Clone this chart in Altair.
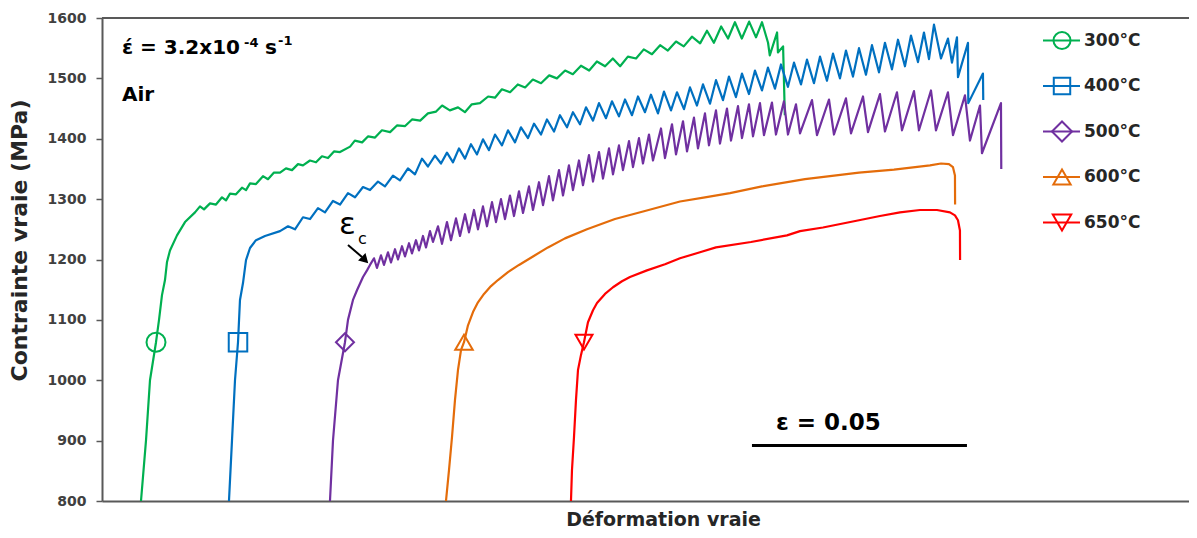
import altair as alt
import pandas as pd

# ---------------- data ----------------
temps = ["300°C", "400°C", "500°C", "600°C", "650°C"]

strain_300 = [0.00907, 0.01023, 0.01116, 0.01256, 0.01326, 0.01395, 0.01465, 0.01512, 0.01581, 0.01744,
              0.01930, 0.02163, 0.02279, 0.02372, 0.02512, 0.02651, 0.02791, 0.02884, 0.02977, 0.03116,
              0.03256, 0.03349, 0.03442, 0.03581, 0.03744, 0.03860, 0.04000, 0.04140, 0.04279, 0.04419,
              0.04558, 0.04674, 0.04837, 0.04977, 0.05116, 0.05256, 0.05395, 0.05535,
              0.0577, 0.0588, 0.0605, 0.0619, 0.0635, 0.0651, 0.0670, 0.0686, 0.0705, 0.0721,
              0.0740, 0.0758, 0.0777, 0.0791, 0.0809, 0.0828, 0.0844, 0.0860, 0.0879, 0.0898,
              0.0914, 0.0930, 0.0949, 0.0967, 0.0984, 0.1002, 0.1021, 0.1040, 0.1058, 0.1077,
              0.1095, 0.1114, 0.1133, 0.1151, 0.1170, 0.1188, 0.1205, 0.1223, 0.1242, 0.1260,
              0.1279, 0.1298, 0.1316, 0.1335, 0.1353, 0.1372, 0.1391, 0.1407, 0.1423, 0.1440,
              0.1456, 0.1472, 0.1488, 0.1505, 0.1521, 0.1535, 0.1549, 0.1553, 0.1570, 0.1572,
              0.1584, 0.1588]
stress_300 = [800, 900, 1000, 1063, 1100, 1141, 1166, 1196, 1215, 1240,
              1262, 1278, 1288, 1283, 1293, 1291, 1303, 1298, 1309, 1308,
              1319, 1315, 1326, 1325, 1338, 1333, 1344, 1344, 1351, 1348,
              1358, 1356, 1364, 1361, 1371, 1368, 1379, 1378,
              1387, 1397, 1394, 1404, 1402, 1414, 1411, 1422, 1421, 1432,
              1430, 1442, 1445, 1455, 1447, 1452, 1444, 1457, 1459, 1470,
              1468, 1482, 1477, 1490, 1485, 1498, 1492, 1505, 1500, 1513,
              1507, 1521, 1513, 1528, 1520, 1533, 1520, 1536, 1533, 1548,
              1540, 1555, 1546, 1561, 1553, 1569, 1558, 1579, 1559, 1586,
              1566, 1593, 1566, 1594, 1568, 1593, 1559, 1538, 1576, 1543,
              1553, 1439]

strain_400 = [0.02953, 0.03023, 0.03093, 0.03163, 0.03209, 0.03279, 0.03349, 0.03442, 0.03581, 0.03791, 0.04140,
              0.04326, 0.04488, 0.04674, 0.04837, 0.05023, 0.05186, 0.05372, 0.05535, 0.05721, 0.05884,
              0.06070, 0.06233, 0.06419, 0.06581, 0.06767, 0.06930, 0.07116, 0.07279,
              0.07442, 0.07581, 0.07744, 0.07884, 0.08023, 0.08163, 0.08302, 0.08442, 0.08581, 0.08721,
              0.08860, 0.09000, 0.09140, 0.09302, 0.09442, 0.09605, 0.09744, 0.09907, 0.10047, 0.10209,
              0.10349, 0.10512, 0.10651, 0.10814, 0.10953, 0.11116, 0.11256, 0.11419, 0.11558, 0.11721,
              0.11860, 0.12023, 0.12163, 0.12326, 0.12465, 0.12628, 0.12767,
              0.12930, 0.13070, 0.13233, 0.13372, 0.13535, 0.13674, 0.13837, 0.13977, 0.14140, 0.14279,
              0.14442, 0.14581, 0.14744, 0.14884, 0.15047, 0.15186, 0.15349, 0.15488, 0.15651, 0.15791,
              0.15953, 0.16093, 0.16256, 0.16395, 0.16558, 0.16698, 0.16860, 0.17000, 0.17163, 0.17302,
              0.17465, 0.17605, 0.17767, 0.17907, 0.18070, 0.18209, 0.18372, 0.18512, 0.18674, 0.18814,
              0.18977, 0.19116, 0.19233, 0.19349,
              0.19512, 0.19674, 0.19767, 0.19884, 0.19907, 0.20140, 0.20147, 0.20488, 0.20495]
stress_400 = [800, 900, 1000, 1063, 1133, 1161, 1199, 1219, 1232, 1239, 1247,
              1255, 1250, 1270, 1267, 1285, 1278, 1297, 1291, 1310, 1303,
              1320, 1315, 1329, 1321, 1339, 1331, 1351, 1341,
              1367, 1354, 1372, 1359, 1377, 1361, 1384, 1367, 1391, 1374,
              1399, 1381, 1407, 1389, 1414, 1394, 1419, 1401, 1425, 1407,
              1432, 1412, 1439, 1419, 1444, 1424, 1452, 1430, 1459, 1434,
              1462, 1437, 1465, 1439, 1470, 1444, 1473,
              1442, 1478, 1447, 1477, 1449, 1485, 1455, 1490, 1458, 1497,
              1464, 1503, 1469, 1508, 1474, 1513, 1480, 1518, 1483, 1523,
              1486, 1526, 1490, 1531, 1492, 1536, 1496, 1541, 1500, 1546,
              1503, 1550, 1506, 1555, 1510, 1559, 1515, 1564, 1520, 1571,
              1527, 1576, 1532, 1589,
              1533, 1566, 1526, 1568, 1502, 1559, 1459, 1508, 1464]

strain_500 = [0.05302, 0.05372, 0.05488, 0.05651, 0.05721, 0.05837, 0.05930, 0.06070, 0.06163, 0.06233,
              0.06326, 0.06395, 0.06488, 0.06558, 0.06651, 0.06721, 0.06814, 0.06884, 0.06977, 0.07047,
              0.07140, 0.07209, 0.07302, 0.07372, 0.07465, 0.07535, 0.07628, 0.07698,
              0.07814, 0.07907, 0.08023, 0.08116, 0.08233, 0.08326, 0.08442, 0.08535, 0.08651, 0.08744,
              0.08860, 0.08953, 0.09070, 0.09163, 0.09279, 0.09372, 0.09488, 0.09581, 0.09698, 0.09791,
              0.09930, 0.10023, 0.10163, 0.10256, 0.10395, 0.10488, 0.10628, 0.10721, 0.10860, 0.10953,
              0.11093, 0.11186, 0.11326, 0.11419, 0.11558, 0.11651, 0.11791, 0.11884, 0.12023, 0.12116,
              0.12256, 0.12349, 0.12488, 0.12581, 0.12721, 0.12814,
              0.13000, 0.13093, 0.13256, 0.13349, 0.13512, 0.13605, 0.13767, 0.13860, 0.14023, 0.14116,
              0.14279, 0.14372, 0.14535, 0.14628, 0.14791, 0.14884, 0.15047, 0.15140, 0.15302, 0.15395,
              0.15581, 0.15674, 0.15860, 0.15953, 0.16140, 0.16233,
              0.16512, 0.16628, 0.16907, 0.17023, 0.17302, 0.17419, 0.17698, 0.17814, 0.18093, 0.18209,
              0.18488, 0.18605, 0.18884, 0.19000, 0.19279, 0.19395, 0.19674, 0.19791, 0.20070, 0.20186,
              0.20419, 0.20465, 0.20907, 0.20914]
stress_500 = [800, 900, 1000, 1063, 1100, 1133, 1149, 1171, 1182, 1191,
              1202, 1186, 1207, 1191, 1212, 1195, 1217, 1200, 1222, 1205,
              1227, 1210, 1232, 1215, 1239, 1220, 1247, 1229,
              1255, 1226, 1262, 1232, 1268, 1239, 1275, 1245, 1282, 1250,
              1288, 1255, 1295, 1262, 1300, 1267, 1306, 1272, 1313, 1277,
              1321, 1282, 1328, 1290, 1338, 1298, 1348, 1306, 1356, 1315,
              1364, 1323, 1373, 1329, 1378, 1334, 1384, 1341, 1389, 1348,
              1396, 1353, 1401, 1359, 1407, 1364,
              1417, 1368, 1424, 1374, 1429, 1379, 1435, 1384, 1442, 1389,
              1447, 1392, 1450, 1397, 1454, 1401, 1457, 1404, 1459, 1406,
              1460, 1407, 1462, 1407, 1457, 1409,
              1464, 1406, 1465, 1407, 1467, 1409, 1470, 1411, 1474, 1412,
              1477, 1414, 1479, 1414, 1480, 1414, 1477, 1406, 1472, 1397,
              1455, 1376, 1459, 1350]

strain_600 = [0.08000, 0.08070, 0.08140, 0.08209, 0.08279, 0.08349, 0.08419, 0.08512, 0.08628, 0.08744,
              0.08884, 0.09047, 0.09209, 0.09442, 0.09698, 0.10023, 0.10372, 0.10767, 0.11279, 0.11930,
              0.12605, 0.13442, 0.14023, 0.14605, 0.15349, 0.16349, 0.16930, 0.17605, 0.18419, 0.19256,
              0.19512, 0.19698, 0.19791, 0.19837, 0.19840]
stress_600 = [800, 851, 906, 967, 1017, 1050, 1063, 1091, 1113, 1129,
              1143, 1156, 1166, 1179, 1191, 1205, 1220, 1235, 1250, 1267,
              1280, 1296, 1303, 1310, 1321, 1333, 1338, 1344, 1349, 1356,
              1359, 1358, 1353, 1339, 1291]

strain_650 = [0.10907, 0.10930, 0.10977, 0.11023, 0.11070, 0.11140, 0.11209, 0.11302, 0.11419, 0.11512,
              0.11698, 0.11884, 0.12093, 0.12279, 0.12674, 0.13093, 0.13442, 0.13907, 0.14279, 0.15093,
              0.15930, 0.16233, 0.16767, 0.17605, 0.18093, 0.18558, 0.19023, 0.19419, 0.19721, 0.19837,
              0.19907, 0.19953, 0.19956]
stress_650 = [800, 851, 906, 967, 1017, 1042, 1063, 1096, 1116, 1128,
              1143, 1154, 1164, 1171, 1182, 1192, 1202, 1212, 1220, 1229,
              1240, 1247, 1253, 1265, 1272, 1278, 1282, 1282, 1278, 1273,
              1265, 1248, 1199]

marker_strain = [0.01256, 0.03163, 0.05651, 0.08419, 0.11209]
marker_stress = [1063, 1063, 1063, 1063, 1063]

y_ticks = [800, 900, 1000, 1100, 1200, 1300, 1400, 1500, 1600]
x_domain = [0, 0.2528]
y_domain = [800, 1600]

scale_bar_start = [0.15116]
scale_bar_end = [0.20116]
scale_bar_stress = [892]

# ---------------- styles ----------------
colors = ["#00B050", "#0070C0", "#7030A0", "#E46C0A", "#FF0000"]
shapes = ["circle", "square", "diamond", "triangle-up", "triangle-down"]
marker_sizes = [361, 289, 441, 529, 729]
legend_sizes = [289, 270, 400, 300, 340]
FONT = "DejaVu Sans"
AXIS_GREY = "#595959"
TEXT = "#262626"

# ---------------- tables ----------------
rows = []
for t, xs, ys in zip(temps,
                     [strain_300, strain_400, strain_500, strain_600, strain_650],
                     [stress_300, stress_400, stress_500, stress_600, stress_650]):
    for i, (xv, yv) in enumerate(zip(xs, ys)):
        rows.append({"temp": t, "strain": xv, "stress": yv, "i": i})
curves = pd.DataFrame(rows)
markers = pd.DataFrame({"temp": temps, "strain": marker_strain, "stress": marker_stress})
bar = pd.DataFrame({"x": scale_bar_start, "x2": scale_bar_end, "y": scale_bar_stress})
one = pd.DataFrame({"a": [0]})

x_scale = alt.Scale(domain=x_domain, nice=False, zero=False)
y_scale = alt.Scale(domain=y_domain, nice=False, zero=False)
color = alt.Color("temp:N", scale=alt.Scale(domain=temps, range=colors), legend=None)

x_axis = alt.Axis(title="Déformation vraie", labels=False, ticks=False, grid=False,
                  domainColor=AXIS_GREY, domainWidth=2,
                  titleFont=FONT, titleFontSize=19, titleFontWeight="bold", titleColor=TEXT,
                  titleX=561, titleY=24, titleAlign="center", titleBaseline="alphabetic")
y_axis = alt.Axis(title="Contrainte vraie (MPa)", values=y_ticks, grid=False,
                  domainColor=AXIS_GREY, domainWidth=2, tickColor=AXIS_GREY, tickWidth=1.5,
                  tickSize=6, labelPadding=10, labelFont=FONT, labelFontSize=14,
                  labelFontWeight="bold", labelColor="#404040", format="d",
                  titleFont=FONT, titleFontSize=22, titleFontWeight="bold", titleColor=TEXT,
                  titleAngle=-90, titleX=-83, titleY=222, titleAlign="center",
                  titleBaseline="middle")

base = alt.Chart(curves)
lines = base.mark_line(strokeWidth=2.2, strokeJoin="round").encode(
    x=alt.X("strain:Q", scale=x_scale, axis=x_axis),
    y=alt.Y("stress:Q", scale=y_scale, axis=y_axis),
    color=color,
    order="i:Q",
)

top_rule = alt.Chart(one).mark_rule(color=AXIS_GREY, strokeWidth=2).encode(
    y=alt.datum(1600, scale=y_scale))

pts = alt.Chart(markers).mark_point(filled=False, strokeWidth=2, opacity=1).encode(
    x=alt.X("strain:Q", scale=x_scale),
    y=alt.Y("stress:Q", scale=y_scale),
    color=color,
    shape=alt.Shape("temp:N", scale=alt.Scale(domain=temps, range=shapes), legend=None),
    size=alt.Size("temp:O", scale=alt.Scale(domain=temps, range=marker_sizes), legend=None),
)

scale_bar = alt.Chart(bar).mark_rule(color="black", strokeWidth=3).encode(
    x=alt.X("x:Q", scale=x_scale), x2="x2:Q", y=alt.Y("y:Q", scale=y_scale))

def txt(s, x, y, size, weight="bold", align="left", baseline="alphabetic", font=FONT, color="black"):
    return alt.Chart(one).mark_text(text=s, font=font, fontSize=size, fontWeight=weight,
                                    align=align, baseline=baseline, color=color).encode(
        x=alt.value(x), y=alt.value(y))

annot = [
    txt("έ = 3.2x10", 20, 36, 20),
    txt("-4", 142, 29, 13),
    txt("s", 163, 36, 20),
    txt("-1", 176, 27, 13),
    txt("Air", 20, 83, 20),
    txt("ε", 237, 216, 31, weight="normal"),
    txt("c", 256, 226, 16, weight="normal"),
    txt("ε = 0.05", 674, 412, 23),
]

arrow_line = alt.Chart(one).mark_rule(color="black", strokeWidth=2).encode(
    x=alt.value(246), y=alt.value(227), x2=alt.value(260), y2=alt.value(239))
arrow_head = alt.Chart(one).mark_point(shape="triangle-up", filled=True, color="black",
                                       size=110, angle=135, opacity=1).encode(
    x=alt.value(263), y=alt.value(242))

legend_layers = []
for k, t in enumerate(temps):
    yy = 22.5 + 45.5 * k
    legend_layers.append(alt.Chart(one).mark_rule(color=colors[k], strokeWidth=2).encode(
        x=alt.value(941), x2=alt.value(978), y=alt.value(yy)))
    legend_layers.append(alt.Chart(one).mark_point(shape=shapes[k], filled=False, color=colors[k],
                                                   strokeWidth=2, size=legend_sizes[k], opacity=1).encode(
        x=alt.value(960), y=alt.value(yy)))
    legend_layers.append(txt(t, 982, yy, 17, baseline="middle", color=TEXT))

chart = alt.layer(top_rule, lines, pts, scale_bar, arrow_line, arrow_head, *annot, *legend_layers).properties(
    width=1087, height=483,
    padding={"left": 94, "top": 10, "right": 0, "bottom": 29},
    autosize=alt.AutoSizeParams(type="none"),
).configure_view(stroke=None)

chart.save("out.html", embed_options={"renderer": "svg", "actions": False})
